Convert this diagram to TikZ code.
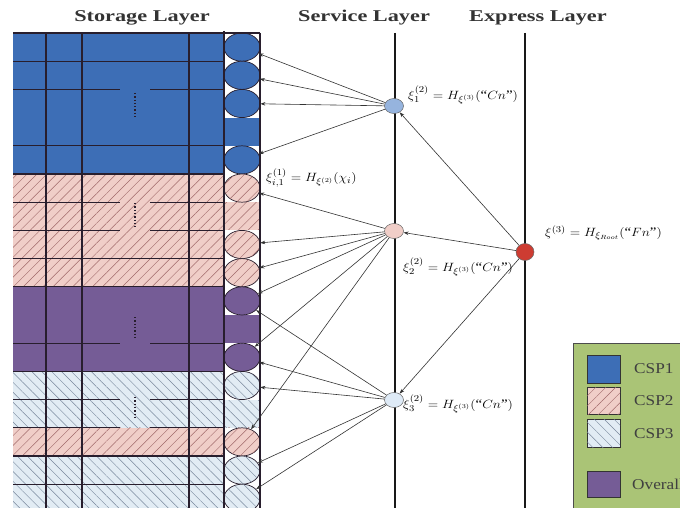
\documentclass[tikz,border=0pt]{standalone}
\usepackage{fontspec}
\setmainfont{Liberation Serif}
\usetikzlibrary{patterns.meta,arrows.meta,shapes.geometric}
\definecolor{cspone}{RGB}{61,110,182}
\definecolor{csptwo}{RGB}{240,206,200}
\definecolor{cspthree}{RGB}{226,236,244}
\definecolor{overall}{RGB}{117,92,150}
\definecolor{hatchtwo}{RGB}{160,105,105}
\definecolor{hatchthree}{RGB}{120,135,155}
\definecolor{legbg}{RGB}{170,196,118}
\definecolor{svcone}{RGB}{150,180,222}
\definecolor{svcthree}{RGB}{222,234,246}
\definecolor{expred}{RGB}{205,60,50}
\definecolor{gridc}{RGB}{40,30,45}
\tikzset{
 c1/.style={fill=cspone},
 c2/.style={fill=csptwo, postaction={pattern={Lines[angle=45,distance=7pt,line width=0.45pt]}, pattern color=hatchtwo}},
 c3/.style={fill=cspthree, postaction={pattern={Lines[angle=-45,distance=7pt,line width=0.45pt]}, pattern color=hatchthree}},
 c4/.style={fill=overall},
 gridline/.style={draw=gridc, line width=1.1pt},
 dotsline/.style={draw=gridc, line width=1.3pt, dash pattern=on 1.3pt off 2pt},
 ell/.style={ellipse, draw=gridc, line width=0.7pt, minimum width=36pt, minimum height=28.2pt, inner sep=0pt},
 svc/.style={ellipse, draw=black!60, line width=0.5pt, minimum width=19pt, minimum height=15pt, inner sep=0pt},
 arr/.style={draw=black!80, line width=0.6pt, -{Stealth[length=5pt,width=3.5pt]}},
 lab/.style={font=\fontsize{13}{15}\selectfont, inner sep=0pt, xscale=1.15, anchor=west},
 ttl/.style={font=\bfseries\fontsize{16.5}{18}\selectfont, text=black!80, inner sep=0pt, xscale=1.35},
 legtxt/.style={font=\fontsize{15}{17}\selectfont, text=black!75, inner sep=0pt, xscale=1.15, anchor=west},
 vline/.style={line width=2.3pt, draw=black!90},
 legsq/.style={draw=black!80, line width=0.8pt},
}
\begin{document}
\begin{tikzpicture}[x=1pt,y=-1pt]
\useasboundingbox (0,0) rectangle (680,508);
\clip (0,0) rectangle (680,508);
\fill[white] (0,0) rectangle (680,508);

% titles
\node[ttl] (tstor) at (142,18) {Storage Layer};
\node[ttl] (tserv) at (364,18) {Service Layer};
\node[ttl] (texpr) at (538,18) {Express Layer};

% row bands
\path[c1] (13,33) rectangle (260,174);
\path[c2] (13,174) rectangle (260,286.8);
\path[c4] (13,286.8) rectangle (260,371.4);
\path[c3] (13,371.4) rectangle (260,427.8);
\path[c2] (13,427.8) rectangle (260,456);
\path[c3] (13,456) rectangle (260,512.4);

% white slots for ellipses
\foreach \k in {0,1,2,4,5,7,8,9,11,12,14,15,16}
  \fill[white] (224,{33+28.2*\k}) rectangle (260,{33+28.2*(\k+1)});

% ellipses
\node[ell,c1] (e0) at (242,47.1) {};
\node[ell,c1] (e1) at (242,75.3) {};
\node[ell,c1] (e2) at (242,103.5) {};
\node[ell,c1] (e4) at (242,159.9) {};
\node[ell,c2] (e5) at (242,188.1) {};
\node[ell,c2] (e7) at (242,244.5) {};
\node[ell,c2] (e8) at (242,272.7) {};
\node[ell,c4] (e9) at (242,300.9) {};
\node[ell,c4] (e11) at (242,357.3) {};
\node[ell,c3] (e12) at (242,385.5) {};
\node[ell,c2] (e14) at (242,441.9) {};
\node[ell,c3] (e15) at (242,470.1) {};
\node[ell,c3] (e16) at (242,498.3) {};

% grid lines: full horizontals
\foreach \y in {61.2,145.8,174,258.6,286.8,371.4,456,484.2}
  \draw[gridline] (13,\y) -- (224,\y);
% broken horizontals
\foreach \y in {89.4,202.2,230.4,343.2,399.6,427.8} {
  \draw[gridline] (13,\y) -- (120,\y);
  \draw[gridline] (150,\y) -- (224,\y);
}
% verticals
\foreach \x in {46,82,189}
  \draw[gridline] (\x,33) -- (\x,510);
\draw[gridline] (224,31) -- (224,510);
\draw[gridline] (260,33) -- (260,510);
\draw[gridline, line width=1.4pt] (13,33) -- (260,33);

% vertical dots
\draw[dotsline] (135,93) -- (135,117);
\draw[dotsline] (135,203) -- (135,228);
\draw[dotsline] (135,317) -- (135,340);
\draw[dotsline] (135,397) -- (135,418);

% layer lines
\draw[vline] (395,33) -- (395,510);
\draw[vline] (525,33) -- (525,510);

% service & express nodes
\node[svc, fill=svcone] (s1) at (394,106) {};
\node[svc, fill=csptwo] (s2) at (394,231) {};
\node[svc, fill=svcthree] (s3) at (394,400) {};
\node[svc, fill=expred, minimum width=18pt, minimum height=17pt] (ex) at (525,252) {};

% arrows service -> storage
\foreach \t in {e0,e1,e2,e4} \draw[arr] (s1) -- (\t);
\foreach \t in {e5,e7,e8,e9,e11,e14} \draw[arr] (s2) -- (\t);
\foreach \t in {e9,e11,e12,e15,e16} \draw[arr] (s3) -- (\t);
% arrows express -> service
\foreach \t in {s1,s2,s3} \draw[arr] (ex) -- (\t);

% labels
\node[lab] (l1) at (408,95) {$\xi_1^{(2)} = H_{\xi^{(3)}}(\mbox{``}Cn\mbox{''})$};
\node[lab] (l0) at (266,178) {$\xi_{i,1}^{(1)} = H_{\xi^{(2)}}(\chi_i)$};
\node[lab] (lx) at (545,233) {$\xi^{(3)} = H_{\xi_{Root}}(\mbox{``}Fn\mbox{''})$};
\node[lab] (l2) at (403,267) {$\xi_2^{(2)} = H_{\xi^{(3)}}(\mbox{``}Cn\mbox{''})$};
\node[lab] (l3) at (403,404) {$\xi_3^{(2)} = H_{\xi^{(3)}}(\mbox{``}Cn\mbox{''})$};

% legend
\draw[fill=legbg, draw=black!70, line width=1pt] (573,343) rectangle (700,520);
\draw[legsq, c1] (587,355) rectangle (620,383);
\draw[legsq, c2] (587,387) rectangle (620,414);
\draw[legsq, c3] (587,419) rectangle (620,447);
\draw[legsq, c4] (587,471) rectangle (620,497);
\node[legtxt] (g1) at (634,369) {CSP1};
\node[legtxt] (g2) at (634,401) {CSP2};
\node[legtxt] (g3) at (634,434) {CSP3};
\node[legtxt] (g4) at (632,484) {Overall};
\end{tikzpicture}
\end{document}
